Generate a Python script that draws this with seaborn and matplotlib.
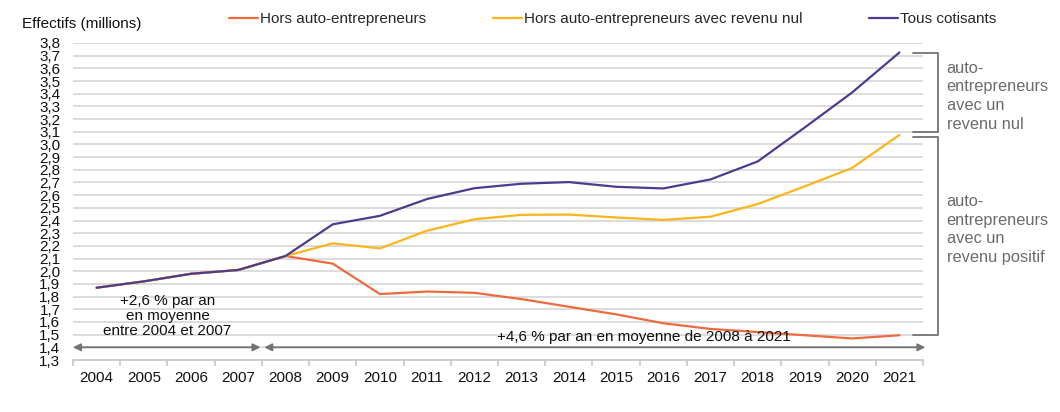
import pandas as pd
import numpy as np
import matplotlib
matplotlib.use("Agg")
import matplotlib.pyplot as plt
import seaborn as sns

# Data (millions)
years = list(range(2004, 2022))
hors_ae = [1.87, 1.92, 1.98, 2.01, 2.12, 2.06, 1.82, 1.84, 1.83, 1.78, 1.72,
           1.66, 1.59, 1.545, 1.52, 1.495, 1.47, 1.495]
hors_ae_nul = [1.87, 1.92, 1.98, 2.01, 2.12, 2.22, 2.18, 2.32, 2.41, 2.445, 2.447,
               2.424, 2.405, 2.43, 2.53, 2.67, 2.815, 3.075]
tous = [1.87, 1.92, 1.98, 2.01, 2.12, 2.37, 2.437, 2.57, 2.655, 2.69, 2.703,
        2.666, 2.653, 2.724, 2.866, 3.135, 3.41, 3.725]
labels = ["Hors auto-entrepreneurs", "Hors auto-entrepreneurs avec revenu nul", "Tous cotisants"]
colors = ["#EE6A3E", "#FBB51A", "#4C3C8E"]
yticks = [round(1.3 + 0.1 * i, 1) for i in range(26)]

df = pd.concat([
    pd.DataFrame({"Année": years, "Effectifs": vals, "Série": lab})
    for vals, lab in zip([hors_ae, hors_ae_nul, tous], labels)
], ignore_index=True)

sns.set_theme(style="white")
plt.rcParams["font.family"] = ["Liberation Sans", "DejaVu Sans"]
fs = 11

fig = plt.figure(figsize=(10.6, 4.12), dpi=100)
ax = fig.add_axes([73 / 1060, 52 / 412, 850 / 1060, 317 / 412])

sns.lineplot(data=df, x="Année", y="Effectifs", hue="Série", hue_order=labels,
             palette=colors, linewidth=1.6, ax=ax)

ax.set_xlim(2003.5, 2021.5)
ax.set_ylim(1.3, 3.8)
ax.set_xlabel("")
ax.set_ylabel("")

# grid
ax.set_yticks(yticks)
ax.set_yticklabels([f"{v:.1f}".replace(".", ",") for v in yticks], fontsize=fs, color="#111111")
for v in yticks[1:]:
    ax.axhline(v, color="#d9d9d9", lw=1.3, zorder=0)
ax.tick_params(axis="y", length=0, pad=9)

ax.set_xticks(years)
ax.set_xticklabels([str(y) for y in years], fontsize=fs, color="#111111")
ax.set_xticks(np.arange(2003.5, 2022, 1), minor=True)
ax.tick_params(axis="x", which="major", length=0, pad=8)
ax.tick_params(axis="x", which="minor", length=4, width=1.2, color="#c8c8c8", bottom=True)

for s in ["top", "right", "left"]:
    ax.spines[s].set_visible(False)
ax.spines["bottom"].set_color("#c8c8c8")
ax.spines["bottom"].set_linewidth(1.3)

# legend
handles, labs = ax.get_legend_handles_labels()
ax.legend(handles, labs, ncol=3, loc="center left", bbox_to_anchor=(150 / 850, 1.075),
          frameon=False, fontsize=fs, handlelength=1.9, handletextpad=0.1,
          columnspacing=4.4, borderaxespad=0)

fig.text(22 / 1060, 1 - 24 / 412, "Effectifs (millions)", fontsize=fs,
         ha="left", va="center", color="#111111")

# arrows for the two periods
grey = "#737373"
ax.annotate("", xy=(2003.5, 1.4), xytext=(2007.47, 1.4),
            arrowprops=dict(arrowstyle="<|-|>", color=grey, lw=1.3, mutation_scale=11,
                            shrinkA=0, shrinkB=0), annotation_clip=False)
ax.annotate("", xy=(2007.55, 1.4), xytext=(2021.55, 1.4),
            arrowprops=dict(arrowstyle="<|-|>", color=grey, lw=1.3, mutation_scale=11,
                            shrinkA=0, shrinkB=0), annotation_clip=False)

ax.text(2005.5, 1.645, "+2,6 % par an\nen moyenne\nentre 2004 et 2007", ha="center",
        va="center", fontsize=fs, color="#111111", linespacing=1.1)
ax.text(2015.6, 1.48, "+4,6 % par an en moyenne de 2008 à 2021", ha="center",
        va="center", fontsize=fs, color="#111111")

# brackets on the right
x0, x1 = 2021.29, 2021.82
for top, bot in [(tous[-1], hors_ae_nul[-1] + 0.02), (hors_ae_nul[-1] - 0.02, hors_ae[-1])]:
    ax.plot([x0, x1, x1, x0], [top, top, bot, bot], color=grey, lw=1.3,
            clip_on=False, solid_joinstyle="round")
ax.text(2022.0, 3.38, "auto-\nentrepreneurs\navec un\nrevenu nul", ha="left", va="center",
        fontsize=11.8, color="#6b6b6b", linespacing=1.3)
ax.text(2022.0, 2.33, "auto-\nentrepreneurs\navec un\nrevenu positif", ha="left",
        va="center", fontsize=11.8, color="#6b6b6b", linespacing=1.3)

fig.savefig("out.png", dpi=100)
